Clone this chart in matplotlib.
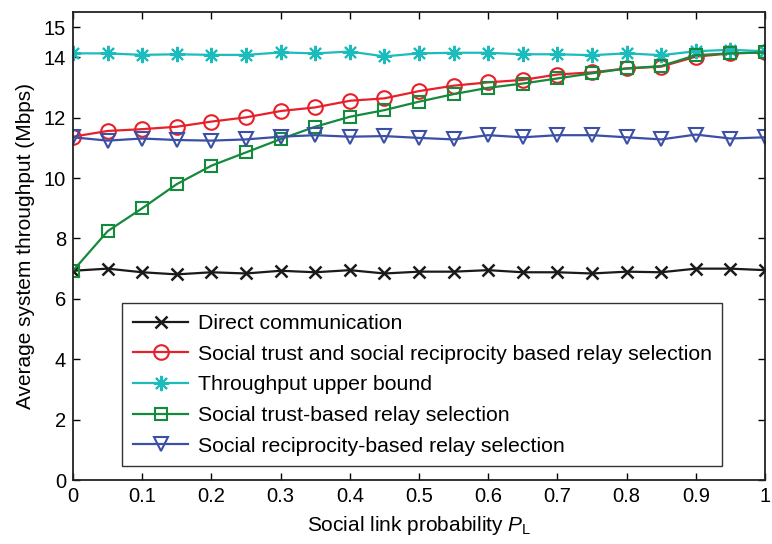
import matplotlib
matplotlib.use("Agg")
import matplotlib.pyplot as plt
import numpy as np

plt.rcParams["font.family"] = ["Liberation Sans", "DejaVu Sans"]
plt.rcParams["mathtext.fontset"] = "custom"
plt.rcParams["mathtext.rm"] = "Liberation Sans"
plt.rcParams["mathtext.it"] = "Liberation Sans:italic"

p_link = [0.0, 0.05, 0.1, 0.15, 0.2, 0.25, 0.3, 0.35, 0.4, 0.45, 0.5,
          0.55, 0.6, 0.65, 0.7, 0.75, 0.8, 0.85, 0.9, 0.95, 1.0]

direct = [6.93, 7.0, 6.88, 6.81, 6.88, 6.84, 6.93, 6.88, 6.95, 6.84, 6.9,
          6.9, 6.95, 6.88, 6.88, 6.84, 6.9, 6.88, 7.0, 7.0, 6.95]
trust_recip = [11.37, 11.56, 11.62, 11.70, 11.87, 12.01, 12.22, 12.34, 12.56, 12.64, 12.88,
               13.06, 13.17, 13.25, 13.43, 13.5, 13.63, 13.69, 14.02, 14.13, 14.16]
upper_bound = [14.13, 14.13, 14.08, 14.1, 14.08, 14.08, 14.16, 14.13, 14.19, 14.03, 14.13,
               14.15, 14.15, 14.1, 14.1, 14.07, 14.13, 14.07, 14.2, 14.25, 14.2]
trust_only = [6.93, 8.24, 9.0, 9.8, 10.41, 10.85, 11.29, 11.70, 12.03, 12.25, 12.53,
              12.78, 12.99, 13.13, 13.3, 13.47, 13.63, 13.71, 14.07, 14.13, 14.16]
recip_only = [11.35, 11.24, 11.31, 11.26, 11.24, 11.28, 11.37, 11.42, 11.37, 11.39, 11.33,
              11.28, 11.42, 11.35, 11.42, 11.42, 11.35, 11.28, 11.44, 11.31, 11.35]

labels = [
    "Direct communication",
    "Social trust and social reciprocity based relay selection",
    "Throughput upper bound",
    "Social trust-based relay selection",
    "Social reciprocity-based relay selection",
]
x_ticks = [0, 0.1, 0.2, 0.3, 0.4, 0.5, 0.6, 0.7, 0.8, 0.9, 1]
x_tick_labels = ["0", "0.1", "0.2", "0.3", "0.4", "0.5", "0.6", "0.7", "0.8", "0.9", "1"]
y_ticks = [0, 2, 4, 6, 8, 10, 12, 14, 15]

fig = plt.figure(figsize=(7.72, 5.44), dpi=100)
ax = fig.add_axes([73 / 772, 64 / 544, 692 / 772, 468 / 544])

lw = 1.6
ax.plot(p_link, direct, color="#1a1a1a", marker="x", markersize=9, markeredgewidth=1.8,
        linewidth=lw, label=labels[0])
ax.plot(p_link, trust_recip, color="#e8202a", marker="o", markersize=10.5, markerfacecolor="none",
        markeredgewidth=1.5, linewidth=lw, label=labels[1])
ax.plot(p_link, upper_bound, color="#1dbcbc", marker=(8, 2, 0), markersize=11, markeredgewidth=1.5,
        linewidth=lw, label=labels[2])
ax.plot(p_link, trust_only, color="#138a3c", marker="s", markersize=8, markerfacecolor="none",
        markeredgewidth=1.5, linewidth=lw, label=labels[3])
ax.plot(p_link, recip_only, color="#3a4fa5", marker="v", markersize=10.5, markerfacecolor="none",
        markeredgewidth=1.5, linewidth=lw, label=labels[4])

ax.set_xlim(0, 1)
ax.set_ylim(0, 15.5)
ax.set_xticks(x_ticks)
ax.set_xticklabels(x_tick_labels)
ax.set_yticks(y_ticks)
ax.tick_params(direction="in", top=True, right=True, labelsize=14.5, length=5, width=1, pad=5)
for spine in ax.spines.values():
    spine.set_linewidth(1.3)
    spine.set_color("#222222")

ax.set_xlabel(r"Social link probability $\mathit{P}_{\mathrm{L}}$", fontsize=15, labelpad=6)
ax.set_ylabel("Average system throughput (Mbps)", fontsize=15, labelpad=6)

# legend box sits low in the axes, wide rows like the MATLAB default
leg = ax.legend(loc="lower center", bbox_to_anchor=(0.505, 0.02), fontsize=15.3,
                fancybox=False, edgecolor="#333333", framealpha=1, handlelength=2.6,
                handletextpad=0.45, labelspacing=0.55, borderpad=0.5, borderaxespad=0.2)
leg.get_frame().set_linewidth(1.0)

fig.savefig("out.png", dpi=100)
